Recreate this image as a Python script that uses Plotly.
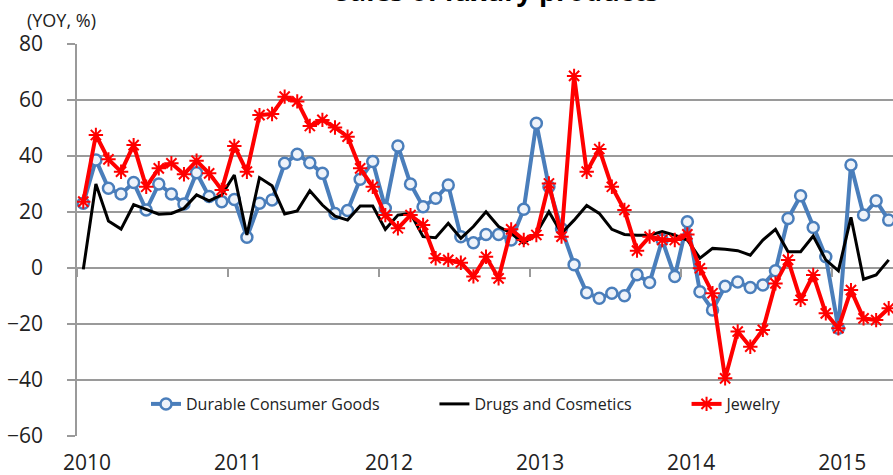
import plotly.graph_objects as go

# Monthly index: 0 = Jan 2010 ... 64 = May 2015
months = list(range(65))
year_labels = ["2010", "2011", "2012", "2013", "2014", "2015"]
year_start_idx = [0, 12, 24, 36, 48, 60]

durable = [23.1, 38.6, 28.5, 26.4, 30.5, 20.7, 30.0, 26.4, 22.9, 34.0, 25.5, 23.7,
           24.5, 11.0, 23.1, 24.3, 37.4, 40.6, 37.6, 33.8, 19.5, 20.5, 31.7, 38.0,
           21.3, 43.6, 30.0, 21.9, 24.9, 29.6, 11.2, 9.0, 12.0, 12.0, 10.0, 21.0,
           51.7, 29.0, 14.0, 1.2, -8.8, -10.8, -9.0, -9.9, -2.4, -5.2, 10.0, -3.0,
           16.5, -8.5, -15.0, -6.5, -5.0, -7.0, -6.1, -1.0, 17.7, 25.8, 14.5, 4.0,
           -21.5, 36.8, 18.9, 24.0, 17.1]

drugs = [-0.5, 30.0, 16.8, 13.9, 22.6, 21.0, 19.2, 19.5, 21.3, 26.1, 24.0, 26.1,
         33.2, 11.8, 32.3, 29.4, 19.3, 20.4, 27.6, 22.5, 18.5, 17.1, 22.1, 22.1,
         13.8, 18.9, 19.5, 11.2, 10.8, 16.0, 10.6, 14.8, 20.1, 14.8, 12.4, 8.8,
         12.4, 20.1, 12.4, 17.1, 22.3, 19.5, 13.8, 12.0, 11.7, 11.7, 13.0, 11.7,
         10.0, 3.5, 7.0, 6.7, 6.2, 4.6, 10.0, 13.8, 5.8, 5.8, 11.4, 2.9,
         -1.0, 18.1, -4.0, -2.5, 2.9]

jewelry = [23.7, 47.5, 38.8, 34.4, 43.9, 29.0, 35.6, 37.4, 33.5, 38.3, 33.8, 27.9,
           43.6, 34.4, 54.6, 55.0, 61.2, 59.5, 50.7, 52.9, 50.2, 46.9, 35.6, 29.0,
           18.9, 14.2, 18.9, 15.4, 3.5, 2.9, 1.9, -3.0, 4.0, -3.7, 13.8, 10.0,
           11.8, 30.2, 11.2, 68.6, 34.4, 42.5, 29.0, 20.7, 6.2, 11.2, 10.0, 10.0,
           12.0, -0.1, -9.0, -39.4, -22.7, -28.1, -22.1, -5.5, 2.9, -11.4, -2.5, -16.2,
           -21.5, -7.9, -18.0, -18.6, -14.4]

series_names = ["Durable Consumer Goods", "Drugs and Cosmetics", "Jewelry"]

BLUE = "#4A7EBB"
GRID = "#9a9a9a"
XRANGE = [-0.5, 64.34]
PAD = "\u00a0" * 12  # spacing between legend entries

fig = go.Figure()
fig.add_trace(go.Scatter(
    x=months, y=durable, name=series_names[0] + PAD, mode="lines+markers",
    line=dict(color=BLUE, width=4),
    marker=dict(symbol="circle", size=11, color="#EEF3FA", line=dict(color=BLUE, width=2.5))))
fig.add_trace(go.Scatter(
    x=months, y=drugs, name=series_names[1] + PAD, mode="lines",
    line=dict(color="black", width=3)))
fig.add_trace(go.Scatter(
    x=months, y=jewelry, name=series_names[2], mode="lines+markers",
    line=dict(color="#FF0000", width=4),
    marker=dict(symbol="asterisk-open", size=12, color="#FF0000", line=dict(color="#FF0000", width=2))))
# helper trace so the zero-line tick axis is drawn
fig.add_trace(go.Scatter(x=[None], y=[None], xaxis="x2", showlegend=False, hoverinfo="skip"))

fig.update_layout(
    width=893, height=475,
    margin=dict(l=77, r=0, t=44, b=39),
    plot_bgcolor="white", paper_bgcolor="white",
    font=dict(family="Open Sans", color="#222"),
    showlegend=True,
    xaxis=dict(range=XRANGE, tickvals=[p + 0.3 for p in year_start_idx], ticktext=year_labels,
               showgrid=False, zeroline=False, showline=False, ticks="",
               tickfont=dict(size=21, color="#222"), ticklabelstandoff=12),
    xaxis2=dict(range=XRANGE, overlaying="x", anchor="free", position=60 / 140, side="bottom",
                tickvals=[p - 0.5 for p in year_start_idx], ticks="outside", ticklen=8,
                tickcolor=GRID, tickwidth=1.5, showticklabels=False,
                showgrid=False, zeroline=False, showline=False),
    yaxis=dict(range=[-60, 80], tick0=0, dtick=20, showgrid=True, gridcolor=GRID, gridwidth=1.5,
               zeroline=False, showline=True, linecolor=GRID, linewidth=1.5,
               ticks="outside", ticklen=8, tickcolor=GRID, tickwidth=1.5,
               tickfont=dict(size=21, color="#222"), ticklabelstandoff=20),
    legend=dict(orientation="h", x=(146 - 77) / 816, y=(436 - 404) / 392,
                xanchor="left", yanchor="middle", bgcolor="rgba(0,0,0,0)",
                font=dict(size=16, color="#222")),
    annotations=[
        dict(text="Sales of luxury products", xref="paper", yref="paper",
             x=(497 - 77) / 816, y=1 + (44 + 10) / 392, xanchor="center", yanchor="middle",
             showarrow=False, font=dict(size=27, color="black", family="Open Sans", weight="bold")),
        dict(text="(YOY, %)", xref="paper", yref="paper",
             x=(25 - 77) / 816, y=1 + (44 - 20) / 392, xanchor="left", yanchor="middle",
             showarrow=False, font=dict(size=18, color="#222")),
    ],
)

fig.write_html("out.html", post_script="document.body.style.margin='0';",
               config={"displayModeBar": False})
